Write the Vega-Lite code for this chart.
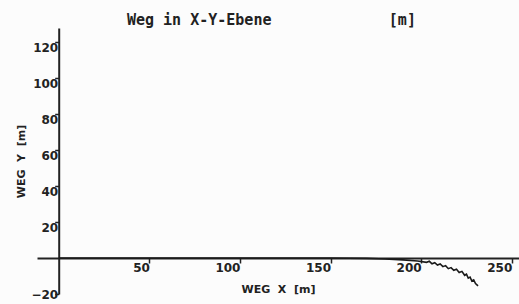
{
  "$schema": "https://vega.github.io/schema/vega-lite/v6.json",
  "width": 482,
  "height": 266,
  "autosize": "none",
  "padding": {"left": 37, "top": 28, "right": 0, "bottom": 10},
  "background": "#fcfcfc",
  "config": {"view": {"stroke": null}, "font": "DejaVu Sans"},
  "title": {
    "text": "Weg in X-Y-Ebene\u00a0\u00a0\u00a0\u00a0\u00a0\u00a0\u00a0\u00a0\u00a0\u00a0\u00a0\u00a0\u00a0[m]",
    "anchor": "start",
    "dx": 111,
    "offset": 0,
    "font": "DejaVu Sans Mono",
    "fontWeight": "bold",
    "fontSize": 15,
    "color": "#222"
  },
  "data": {
    "values": [
      {"x": 0, "y": 0},
      {"x": 50, "y": 0},
      {"x": 100, "y": 0},
      {"x": 150, "y": 0},
      {"x": 170, "y": -0.2},
      {"x": 180, "y": -0.5},
      {"x": 190, "y": -1.0},
      {"x": 198, "y": -1.6},
      {"x": 203, "y": -2.4},
      {"x": 204.5, "y": -1.8},
      {"x": 206, "y": -3.2},
      {"x": 207.5, "y": -2.6},
      {"x": 209, "y": -3.9},
      {"x": 210.5, "y": -3.3},
      {"x": 212, "y": -4.8},
      {"x": 213.5, "y": -4.2},
      {"x": 215, "y": -5.9},
      {"x": 216.5, "y": -5.3},
      {"x": 218, "y": -6.8},
      {"x": 219.5, "y": -6.2},
      {"x": 221, "y": -8.0},
      {"x": 222.5, "y": -7.4},
      {"x": 224, "y": -9.6},
      {"x": 225, "y": -9.0},
      {"x": 226, "y": -11.2},
      {"x": 227, "y": -10.6},
      {"x": 228, "y": -12.8},
      {"x": 229, "y": -12.2},
      {"x": 230, "y": -14.2},
      {"x": 231.4, "y": -15.5}
    ]
  },
  "mark": {"type": "line", "color": "#1a1a1a", "strokeWidth": 1.6, "interpolate": "linear"},
  "encoding": {
    "x": {
      "field": "x",
      "type": "quantitative",
      "scale": {"domain": [-12, 254], "nice": false, "zero": false},
      "axis": {
        "offset": -36,
        "values": [50, 100, 150, 200, 250],
        "grid": false,
        "domainColor": "#222",
        "domainWidth": 2,
        "tickColor": "#222",
        "tickWidth": 1.5,
        "tickSize": 5,
        "labelAlign": "right",
        "labelBaseline": "top",
        "labelDx": -1,
        "labelPadding": -1,
        "labelFont": "DejaVu Sans",
        "labelFontWeight": "bold",
        "labelFontSize": 12,
        "labelColor": "#222",
        "title": "WEG\u00a0\u00a0X\u00a0\u00a0[m]",
        "titleFont": "DejaVu Sans",
        "titleFontWeight": "bold",
        "titleFontSize": 11,
        "titleColor": "#222",
        "titlePadding": 10
      }
    },
    "y": {
      "field": "y",
      "type": "quantitative",
      "scale": {"domain": [-20, 128], "nice": false, "zero": false},
      "axis": {
        "offset": -21.7,
        "values": [-20, 20, 40, 60, 80, 100, 120],
        "grid": false,
        "domainColor": "#222",
        "domainWidth": 2,
        "tickColor": "#222",
        "tickWidth": 1.5,
        "tickSize": 4,
        "labelAlign": "right",
        "labelBaseline": {"condition": {"test": "datum.value < 0", "value": "middle"}, "value": "top"},
        "labelDy": -1,
        "labelPadding": -3,
        "labelFont": "DejaVu Sans",
        "labelFontWeight": "bold",
        "labelFontSize": 12,
        "labelColor": "#222",
        "title": "WEG\u00a0\u00a0Y\u00a0\u00a0[m]",
        "titleFont": "DejaVu Sans",
        "titleFontWeight": "bold",
        "titleFontSize": 11,
        "titleColor": "#222",
        "titlePadding": 4
      }
    }
  }
}
